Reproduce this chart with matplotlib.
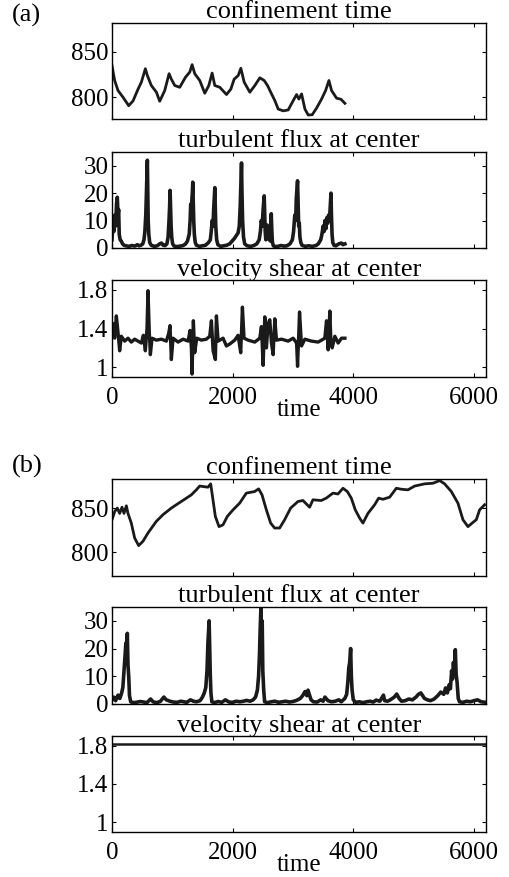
import matplotlib
matplotlib.use('Agg')
import matplotlib.pyplot as plt

plt.rcParams['font.family'] = ['Liberation Serif', 'DejaVu Serif']

# (a) confinement time
conf_a_t = [0, 44, 100, 183, 277, 349, 432, 487, 553, 586, 652, 736, 791, 874, 946, 984,
            1040, 1123, 1217, 1289, 1328, 1372, 1455, 1538, 1605, 1660, 1704, 1787, 1898,
            1970, 2025, 2092, 2136, 2191, 2285, 2368, 2451, 2523, 2578, 2645, 2700, 2755,
            2838, 2921, 3004, 3060, 3098, 3143, 3198, 3253, 3319, 3391, 3474, 3541, 3596,
            3640, 3723, 3795, 3861]
conf_a_v = [835, 818.5, 807.4, 800, 790.7, 796, 809, 816.7, 831.5, 824, 813, 805.6, 795.6,
            807.4, 826, 820, 813, 811, 822, 827.8, 836, 826, 818.5, 804.4, 813, 826.7, 813,
            811, 803, 809, 820, 824, 832, 816.7, 805.6, 813, 821.5, 818.5, 813, 803.7, 796.3,
            787, 785, 786, 796.3, 803, 798, 803.7, 787, 780.4, 780.7, 788, 798, 807.4, 818.5,
            807.4, 799, 797.8, 793.3]

# (a) turbulent flux at center
flux_a_t = [0, 15, 30, 45, 60, 75, 88, 100, 110, 120, 135, 155, 175, 200, 230, 280, 330,
            380, 420, 450, 480, 510, 530, 545, 560, 570, 578, 586, 594, 600, 610, 625, 650,
            700, 750, 790, 820, 850, 880, 910, 930, 945, 955, 963, 970, 980, 990, 1005, 1030,
            1080, 1130, 1180, 1220, 1250, 1280, 1295, 1305, 1315, 1325, 1332, 1339, 1346,
            1355, 1365, 1380, 1400, 1450, 1500, 1550, 1600, 1630, 1645, 1660, 1675, 1685,
            1695, 1705, 1712, 1720, 1735, 1755, 1800, 1850, 1900, 1950, 1990, 2030, 2060,
            2090, 2110, 2125, 2135, 2147, 2155, 2165, 2180, 2200, 2240, 2300, 2350, 2400,
            2440, 2460, 2475, 2490, 2505, 2515, 2523, 2530, 2540, 2550, 2560, 2570, 2580,
            2595, 2605, 2615, 2630, 2640, 2650, 2660, 2675, 2700, 2750, 2800, 2850, 2900,
            2950, 2990, 3010, 3030, 3045, 3055, 3068, 3076, 3085, 3095, 3105, 3115, 3130,
            3150, 3200, 3260, 3320, 3380, 3420, 3460, 3480, 3500, 3515, 3530, 3545, 3560,
            3575, 3590, 3605, 3618, 3630, 3638, 3648, 3660, 3680, 3710, 3760, 3800, 3830, 3861]
flux_a_v = [3, 9, 6, 12, 8, 16, 18.5, 12, 14, 5, 3, 2.5, 1.5, 1, 0.8, 0.6, 0.9, 0.7, 1.2,
            0.8, 1.0, 1.5, 3, 6, 12, 20, 26, 32, 20, 10, 5, 2, 1, 0.6, 0.8, 1.5, 1.8, 1.0, 0.9,
            1.5, 4, 10, 15, 21, 15, 8, 4, 1.5, 0.7, 0.5, 0.7, 0.9, 1.5, 2.5, 5, 10, 16, 13, 18,
            20, 24, 18, 10, 5, 2, 1, 0.6, 0.8, 1.0, 2.0, 3, 6, 10, 8, 14, 18, 22, 16, 8, 3,
            1.2, 0.6, 0.8, 1.0, 1.5, 2.5, 3.5, 4.5, 5.5, 8, 15, 22, 31, 20, 10, 4, 1.5, 0.8,
            0.6, 0.9, 1.5, 3, 6, 10, 8, 14, 17, 19, 13, 6, 3, 6, 8.4, 4, 7.8, 3, 5, 2.5, 12.5,
            6, 2, 0.8, 0.5, 0.6, 0.9, 0.7, 0.8, 1.5, 3, 6, 12, 10, 18, 22, 24.5, 16, 8, 9, 4,
            2, 1.0, 0.6, 0.8, 0.6, 0.9, 1.5, 3, 5, 8, 6, 10, 7, 11, 9, 12, 10, 15, 20, 12, 5,
            2, 1, 0.8, 1.5, 1.8, 1.2, 1.5]

# (a) velocity shear at center
shear_a_t = [0, 17, 44, 72, 100, 127, 155, 210, 265, 320, 376, 431, 487, 520, 553, 580, 597,
             619, 636, 664, 735, 818, 901, 940, 962, 984, 1012, 1095, 1178, 1261, 1294, 1316,
             1327, 1349, 1371, 1405, 1482, 1565, 1620, 1648, 1676, 1714, 1731, 1759, 1841,
             1897, 1952, 2035, 2090, 2134, 2162, 2189, 2256, 2367, 2450, 2477, 2505, 2533,
             2560, 2588, 2616, 2643, 2671, 2699, 2727, 2810, 2920, 3003, 3060, 3076, 3109,
             3142, 3197, 3307, 3418, 3528, 3556, 3584, 3611, 3628, 3650, 3694, 3749, 3805, 3861]
shear_a_v = [1.34, 1.45, 1.30, 1.53, 1.36, 1.17, 1.32, 1.27, 1.30, 1.26, 1.29, 1.27, 1.25,
             1.33, 1.17, 1.40, 1.79, 1.35, 1.13, 1.30, 1.28, 1.29, 1.27, 1.35, 1.43, 1.08,
             1.30, 1.26, 1.29, 1.27, 1.38, 1.20, 0.93, 1.48, 1.15, 1.30, 1.28, 1.29, 1.32,
             1.48, 1.17, 1.08, 1.53, 1.27, 1.30, 1.22, 1.24, 1.28, 1.33, 1.15, 1.62, 1.30,
             1.28, 1.26, 1.30, 1.42, 1.02, 1.52, 1.20, 1.45, 1.49, 1.25, 1.13, 1.50, 1.28,
             1.29, 1.27, 1.30, 1.25, 1.01, 1.57, 1.22, 1.29, 1.27, 1.26, 1.30, 1.48, 1.18,
             1.58, 1.28, 1.20, 1.32, 1.25, 1.30, 1.30]

# (b) confinement time
conf_b_t = [0, 44, 88, 127, 166, 199, 238, 265, 320, 376, 442, 514, 597, 735, 845, 983, 1066,
            1204, 1315, 1398, 1453, 1591, 1636, 1674, 1713, 1774, 1840, 1912, 2006, 2116,
            2227, 2365, 2431, 2487, 2559, 2630, 2696, 2779, 2862, 2961, 3083, 3166, 3276,
            3331, 3469, 3552, 3663, 3746, 3829, 3901, 3967, 4033, 4105, 4160, 4243, 4354,
            4420, 4492, 4603, 4713, 4796, 4906, 5017, 5183, 5321, 5432, 5514, 5625, 5735,
            5818, 5901, 5984, 6039, 6094, 6177]
conf_b_v = [836.8, 846, 850, 844, 851, 844, 852.6, 844, 833, 816, 807.5, 812.4, 821.8, 835,
            842.5, 850, 853.8, 860, 865, 870.7, 875, 873.7, 877.5, 859.4, 840.6, 829, 831,
            840.6, 848, 855.6, 867, 868.8, 871.8, 865, 848, 833, 827.4, 827.4, 836.8, 850,
            857.5, 858.6, 851, 859.4, 858.6, 861.3, 867, 866, 872.5, 868.8, 861.3, 848, 838.7,
            833, 844, 853.8, 861.3, 860, 862.4, 872.5, 871.4, 870.7, 875, 877.5, 878.2, 881.2,
            877.5, 868.8, 855.6, 836.8, 829, 833.8, 836.8, 848, 853.8]

# (b) turbulent flux at center
flux_b_t = [0, 30, 60, 100, 130, 160, 180, 200, 215, 230, 243, 254, 265, 277, 290, 310, 340,
            400, 470, 530, 580, 640, 680, 740, 800, 860, 900, 960, 1020, 1080, 1140, 1190,
            1240, 1300, 1350, 1400, 1460, 1500, 1530, 1555, 1575, 1590, 1600, 1610, 1620,
            1630, 1640, 1655, 1700, 1760, 1820, 1880, 1940, 2000, 2060, 2120, 2180, 2230,
            2290, 2340, 2380, 2410, 2430, 2445, 2455, 2470, 2480, 2490, 2500, 2515, 2530,
            2580, 2640, 2700, 2760, 2820, 2880, 2940, 3000, 3060, 3120, 3160, 3200, 3230,
            3249, 3270, 3300, 3340, 3400, 3460, 3500, 3530, 3580, 3640, 3700, 3760, 3800,
            3860, 3890, 3910, 3925, 3940, 3956, 3968, 3980, 4000, 4040, 4100, 4160, 4220,
            4280, 4330, 4380, 4440, 4480, 4500, 4520, 4570, 4620, 4680, 4720, 4760, 4800,
            4860, 4920, 4980, 5040, 5080, 5120, 5150, 5180, 5230, 5280, 5340, 5400, 5450,
            5500, 5530, 5560, 5590, 5610, 5630, 5645, 5660, 5675, 5691, 5705, 5720, 5740,
            5760, 5820, 5880, 5940, 6000, 6060, 6120, 6200]
flux_b_v = [1.5, 2.5, 1.2, 3.2, 2.0, 4, 6, 12, 17, 22, 18, 25.5, 14, 10, 3, 0.8, 0.5, 0.6,
            0.9, 0.7, 0.5, 1.8, 0.8, 0.5, 0.9, 2.5, 1.5, 1.0, 0.7, 0.6, 1.0, 0.8, 0.6, 1.5,
            1.0, 0.8, 1.2, 2.5, 4, 6, 12, 22, 26, 30, 20, 10, 4, 0.8, 0.5, 0.9, 0.6, 1.5,
            0.7, 0.6, 1.0, 0.8, 1.0, 1.3, 1.0, 1.5, 2.5, 5, 10, 18, 26, 35.5, 20, 30, 12, 5,
            0.8, 0.5, 0.8, 1.0, 0.6, 0.8, 1.0, 0.7, 0.9, 1.3, 2.0, 3, 4.5, 3, 5, 3.5, 1.5,
            0.8, 0.7, 1.5, 1.0, 2.5, 1.2, 0.8, 1.0, 1.5, 0.8, 2.0, 3.5, 8, 13, 15, 20, 10, 5,
            1.5, 0.6, 0.8, 0.5, 0.8, 1.0, 0.7, 1.4, 1.0, 2.5, 3.2, 1.2, 1.0, 1.6, 2.5, 3.6,
            2.0, 1.0, 1.2, 1.8, 1.5, 2.5, 3.5, 4, 3, 2, 1.5, 1.2, 1.8, 3, 4.3, 3.5, 5.8, 4,
            7, 5.5, 12, 9, 15, 11, 19.6, 10.7, 8, 2, 0.8, 0.6, 1.0, 0.8, 1.2, 1.5, 0.8, 0.6]

# (b) velocity shear at center
shear_b_t = [0, 6200]
shear_b_v = [1.815, 1.815]

x_ticks = [0, 2000, 4000, 6000]
W, H = 510, 877


def make_axes(fig, top, bottom, title, ylim, yticks, yticklabels, show_x):
    ax = fig.add_axes([112 / W, 1 - bottom / H, 374 / W, (bottom - top) / H])
    ax.set_xlim(0, 6200)
    ax.set_ylim(*ylim)
    ax.set_xticks(x_ticks)
    ax.set_yticks(yticks)
    ax.set_yticklabels(yticklabels)
    ax.tick_params(direction='in', top=True, right=True, length=3, width=0.8,
                   labelsize=18)
    ax.tick_params(axis='y', pad=2.5)
    ax.tick_params(axis='x', pad=7)
    for s in ax.spines.values():
        s.set_linewidth(1.0)
    ax.set_title(title, fontsize=19, pad=3)
    if show_x:
        ax.set_xlabel('time', fontsize=18, labelpad=-7)
    else:
        ax.set_xticklabels([])
    return ax


fig = plt.figure(figsize=(W / 100, H / 100), dpi=100)

ax = make_axes(fig, 23, 119, 'confinement time', (776, 882), [800, 850], ['800', '850'], False)
ax.plot(conf_a_t, conf_a_v, color='#1a1a1a', linewidth=2.0)
ax = make_axes(fig, 152, 248, 'turbulent flux at center', (0, 35), [0, 10, 20, 30],
               ['0', '10', '20', '30'], False)
ax.plot(flux_a_t, flux_a_v, color='#1a1a1a', linewidth=2.6)
ax = make_axes(fig, 280, 377, 'velocity shear at center', (0.9, 1.9), [1, 1.4, 1.8],
               ['1', '1.4', '1.8'], True)
ax.plot(shear_a_t, shear_a_v, color='#1a1a1a', linewidth=2.4)

ax = make_axes(fig, 479, 576, 'confinement time', (773, 883), [800, 850], ['800', '850'], False)
ax.plot(conf_b_t, conf_b_v, color='#1a1a1a', linewidth=2.0)
ax = make_axes(fig, 607, 704, 'turbulent flux at center', (0, 35), [0, 10, 20, 30],
               ['0', '10', '20', '30'], False)
ax.plot(flux_b_t, flux_b_v, color='#1a1a1a', linewidth=2.6)
ax = make_axes(fig, 736, 832, 'velocity shear at center', (0.9, 1.9), [1, 1.4, 1.8],
               ['1', '1.4', '1.8'], True)
ax.plot(shear_b_t, shear_b_v, color='#1a1a1a', linewidth=1.8)

fig.text(12 / W, 1 - 15 / H, '(a)', fontsize=19, va='center', ha='left')
fig.text(12 / W, 1 - 466 / H, '(b)', fontsize=19, va='center', ha='left')

fig.savefig('out.png', dpi=100)
